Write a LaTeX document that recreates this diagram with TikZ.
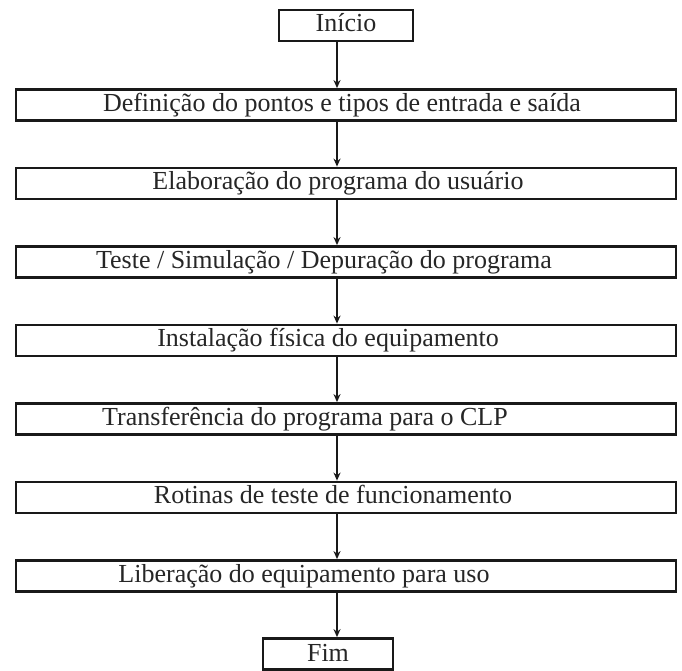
\documentclass[tikz,border=0pt]{standalone}
\usepackage{fontspec}
\setmainfont{Liberation Serif}
\usetikzlibrary{arrows.meta}
\begin{document}
\begin{tikzpicture}[x=1pt,y=-1pt,
  box/.style={draw=black!90, line width=2.8pt, minimum height=31pt, inner sep=0pt},
  mainbox/.style={box, minimum width=660pt},
  lbl/.style={font=\fontsize{26}{30}\selectfont, inner sep=0pt, text=black!85, text height=17.5pt, text depth=5pt},
  conn/.style={draw=black!90, line width=1.6pt, -{Stealth[length=8pt,width=7pt]}}]
\useasboundingbox (0,0) rectangle (682,671);
\coordinate (ax) at (337,0);
% start
\node[box, minimum width=134pt] (ini) at (346,25.5) {};
\node[lbl] (t0) at (346,25.5) {Início};
% steps
\node[mainbox] (b1) at (346,105) {};
\node[lbl] (t1) at (342,105) {Definição do pontos e tipos de entrada e saída};
\node[mainbox] (b2) at (346,183.5) {};
\node[lbl] (t2) at (338,183.5) {Elaboração do programa do usuário};
\node[mainbox] (b3) at (346,262) {};
\node[lbl] (t3) at (324,262) {Teste / Simulação / Depuração do programa};
\node[mainbox] (b4) at (346,340.5) {};
\node[lbl] (t4) at (328,340.5) {Instalação física do equipamento};
\node[mainbox] (b5) at (346,419) {};
\node[lbl] (t5) at (305,419) {Transferência do programa para o CLP};
\node[mainbox] (b6) at (346,497.5) {};
\node[lbl] (t6) at (333,497.5) {Rotinas de teste de funcionamento};
\node[mainbox] (b7) at (346,576) {};
\node[lbl] (t7) at (304,576) {Liberação do equipamento para uso};
% end
\node[box, minimum width=130pt] (fim) at (328,654) {};
\node[lbl] (t8) at (328,655) {Fim};
% connectors
\draw[conn] (ini.south -| ax) -- (b1.north -| ax);
\draw[conn] (b1.south -| ax) -- (b2.north -| ax);
\draw[conn] (b2.south -| ax) -- (b3.north -| ax);
\draw[conn] (b3.south -| ax) -- (b4.north -| ax);
\draw[conn] (b4.south -| ax) -- (b5.north -| ax);
\draw[conn] (b5.south -| ax) -- (b6.north -| ax);
\draw[conn] (b6.south -| ax) -- (b7.north -| ax);
\draw[conn] (b7.south -| ax) -- (fim.north -| ax);
\end{tikzpicture}
\end{document}
